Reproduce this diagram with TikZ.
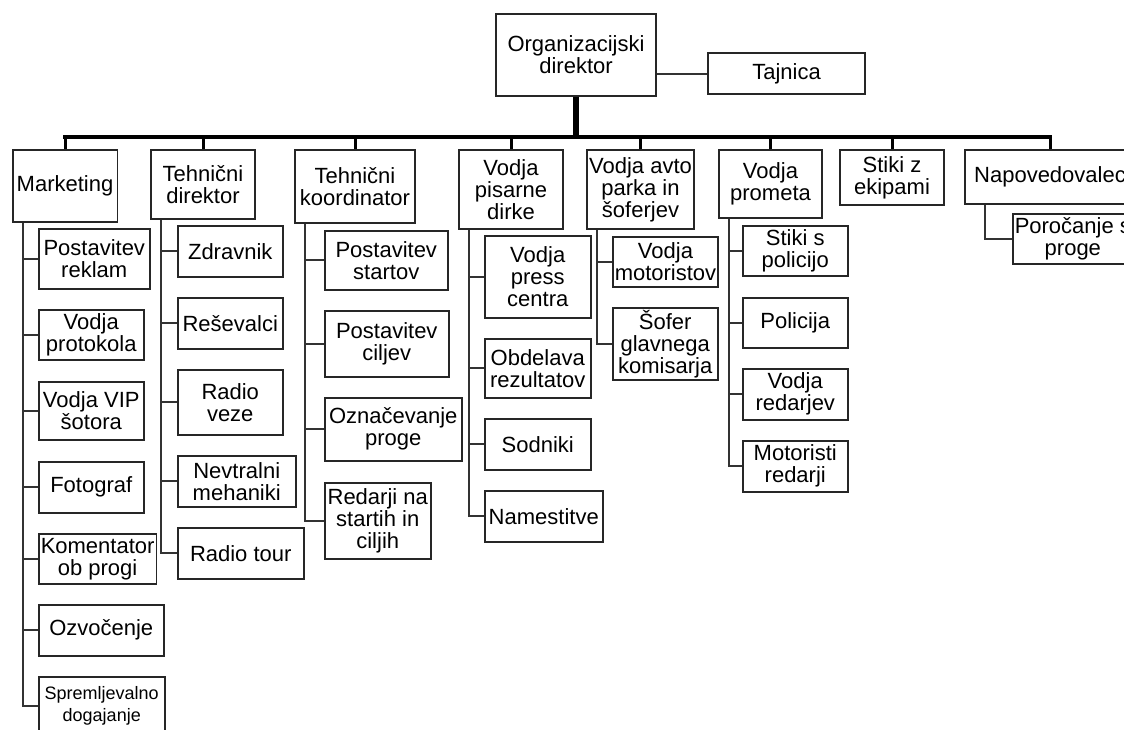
\documentclass[tikz,border=0pt]{standalone}
\usepackage{fontspec}
\setmainfont{Liberation Sans}
\usetikzlibrary{calc}

\begin{document}
\begin{tikzpicture}[x=0.5pt, y=-0.5pt,
    box/.style={draw=black!85, line width=0.75pt, fill=white, align=center, inner sep=1pt,
        font=\fontsize{11}{11}\selectfont},
    sub/.style={box, anchor=north west},
    bar/.style={line width=2pt, line cap=rect},
    drop/.style={line width=1.5pt},
    branch/.style={line width=1pt, black!80}]
    \clip (0,0) rectangle (1124,729);
    \fill[white] (0,0) rectangle (1124,729);
    % head and secretary
    \node[box, minimum width=80pt, minimum height=41pt] (org) at (576,55) {Organizacijski\\direktor};
    \node[box, minimum width=78.5pt, minimum height=20.5pt] (taj) at (786.5,73.5) {Tajnica};
    \draw[branch] (org.east |- taj.west) -- (taj.west);
    % departments
    \foreach \n/\cx/\cy/\w/\h/\t in {mkt/65/186/104.5/72/Marketing,
            tdir/203/184.5/104/69/{Tehnični\\direktor},
            tkoo/355/186.5/120/73/{Tehnični\\koordinator},
            pis/511/189.5/104/79/{Vodja\\pisarne\\dirke},
            avto/640.5/189.5/107/79/{Vodja avto\\parka in\\šoferjev},
            prom/770.5/184/103/68/{Vodja\\prometa},
            stik/892/177.5/104/55/{Stiki z\\ekipami},
            nap/1050/177/170/54/Napovedovalec}
        \node[box, minimum width=\w*0.5pt, minimum height=\h*0.5pt] (\n) at (\cx,\cy) {\t};
    \coordinate (bus) at (576,137);
    \draw[line width=3pt] (org.south) -- (org.south |- bus);
    \draw[bar] (mkt.north |- bus) -- (nap.north |- bus);
    \foreach \n in {mkt,tdir,tkoo,pis,avto,prom,stik,nap}
        \draw[drop] (\n.north) -- (\n.north |- bus);
    % staff under each department
    \foreach \p/\n/\lx/\ty/\w/\h/\t in {mkt/mk1/38/228/111/60/{Postavitev\\reklam},
            mkt/mk2/38/309/105/50/{Vodja\\protokola},
            mkt/mk3/38/381/105/58/{Vodja VIP\\šotora},
            mkt/mk4/38/461/105/51/Fotograf,
            mkt/mk5/38/533/117/50/{Komentator\\ob progi},
            mkt/mk6/38/604/125/51/Ozvočenje,
            tdir/td1/177/225/105/51/Zdravnik,
            tdir/td2/177/297/105/51/Reševalci,
            tdir/td3/177/369/105/65/{Radio\\veze},
            tdir/td4/177/455/118/51/{Nevtralni\\mehaniki},
            tdir/td5/177/527/126/51/Radio tour,
            tkoo/tk1/324/230/123/59/{Postavitev\\startov},
            tkoo/tk2/324/310/124/66/{Postavitev\\ciljev},
            tkoo/tk3/324/397/137/63/{Označevanje\\proge},
            tkoo/tk4/324/482/106/76/{Redarji na\\startih in\\ciljih},
            pis/pd1/484/235/106/82/{Vodja\\press\\centra},
            pis/pd2/484/338/106/59/{Obdelava\\rezultatov},
            pis/pd3/484/418/106/51/Sodniki,
            pis/pd4/484/490/118/51/Namestitve,
            avto/ap1/612/236/105/50/{Vodja\\motoristov},
            avto/ap2/612/307/105/72/{Šofer\\glavnega\\komisarja},
            prom/pr1/742/225/105/50/{Stiki s\\policijo},
            prom/pr2/742/297/105/50/Policija,
            prom/pr3/742/368/105/51/{Vodja\\redarjev},
            prom/pr4/742/440/105/51/{Motoristi\\redarji}}
    {
        \node[sub, minimum width=\w*0.5pt, minimum height=\h*0.5pt] (\n) at (\lx,\ty) {\t};
        \draw[branch] ($(\p.south west)+(11,0)$) |- (\n.west);
    }
    \node[sub, minimum width=63pt, minimum height=29pt, font=\fontsize{9}{11}\selectfont]
        (mk7) at (38,676) {Spremljevalno\\dogajanje};
    \draw[branch] ($(mkt.south west)+(11,0)$) |- (mk7.west);
    \node[sub, minimum width=57pt, minimum height=25pt] (np1) at (1012,213) {Poročanje s\\proge};
    \draw[branch] ($(nap.south west)+(21,0)$) |- (np1.west);
\end{tikzpicture}
\end{document}
